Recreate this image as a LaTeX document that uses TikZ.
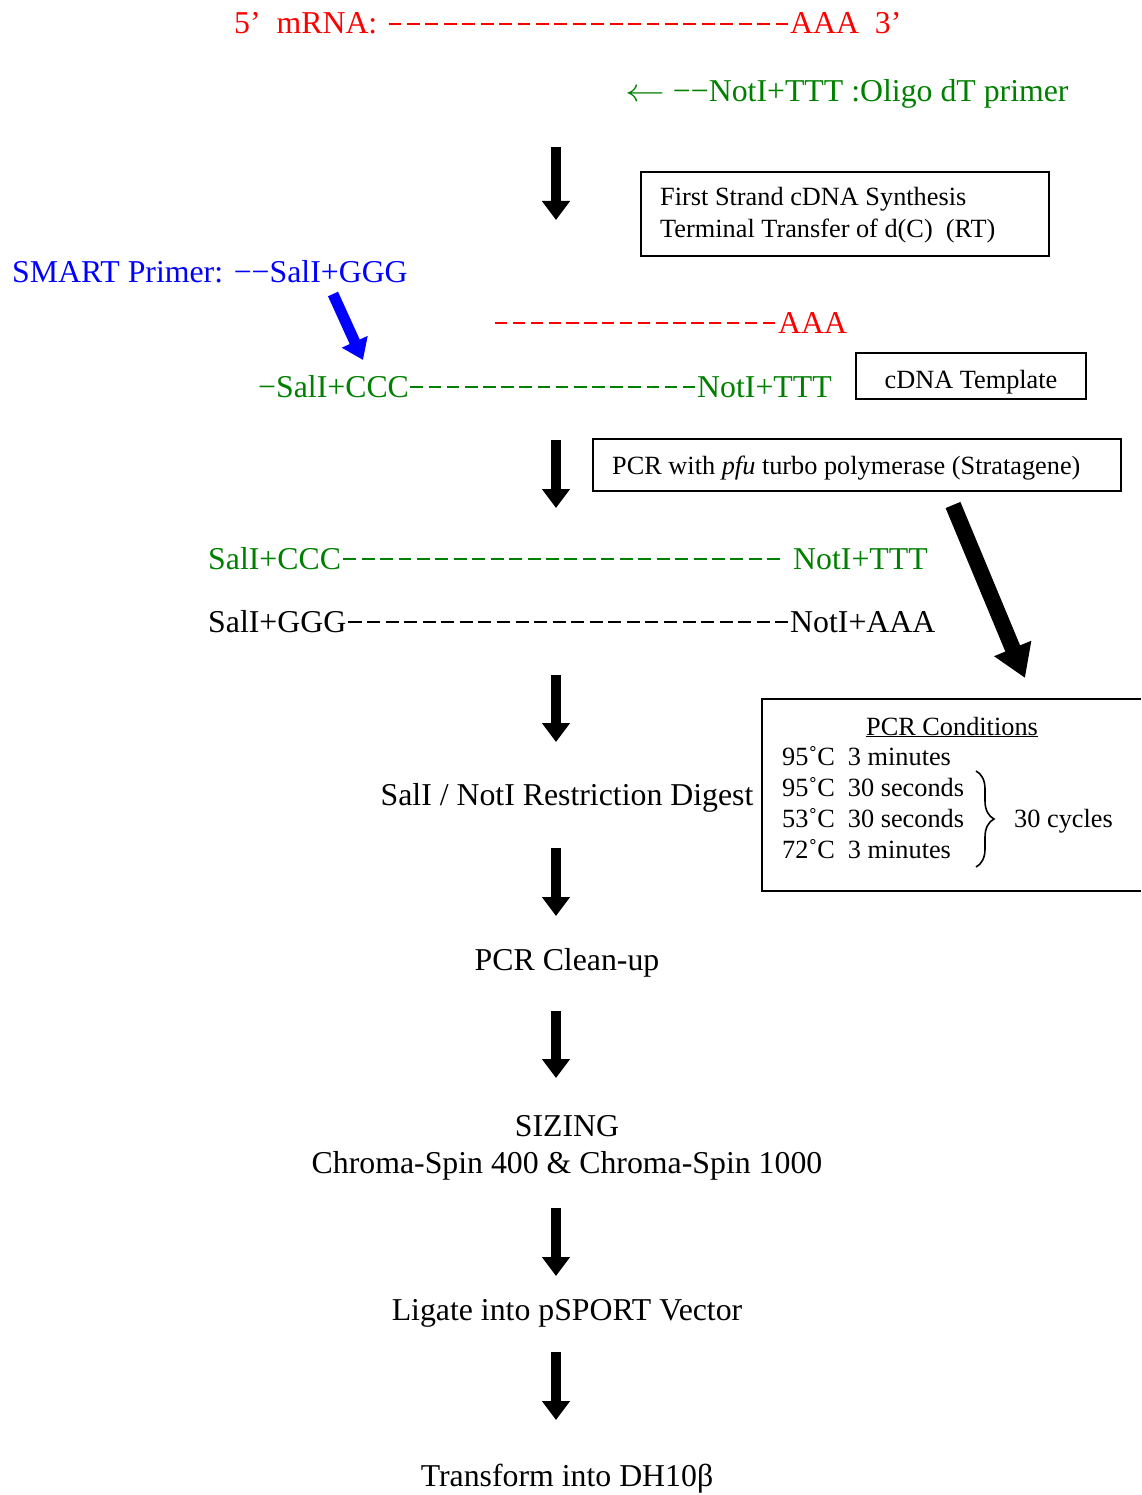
\documentclass[tikz,border=0pt]{standalone}
\usepackage{fontspec}
\setmainfont{Liberation Serif}
\usetikzlibrary{arrows.meta,decorations.pathreplacing}
\definecolor{dgreen}{RGB}{0,128,0}
\definecolor{pblue}{RGB}{0,0,255}
\definecolor{pred}{RGB}{255,0,0}
\begin{document}
\begin{tikzpicture}[x=1pt,y=-1pt,
  big/.style={font=\fontsize{31.8}{38}\selectfont, inner sep=0pt, anchor=base west},
  bigc/.style={font=\fontsize{31.8}{37}\selectfont, inner sep=0pt, anchor=base},
  small/.style={font=\fontsize{26.3}{32}\selectfont, inner sep=0pt, anchor=base west},
  strand/.style={line width=2.2pt},
  downarrow/.style={line width=10pt, -{Triangle[width=27pt,length=19pt]}},
  framebox/.style={draw, line width=1.6pt, inner sep=0pt},
]
\useasboundingbox (0,0) rectangle (1141,1495);

% mRNA
\node[big, text=pred] (m5) at (234,34) {5’\ \ mRNA:};
\node[big, text=pred] (m3) at (790,34) {AAA\ \ 3’};
\draw[pred, strand, dash pattern=on 12.93pt off 5.5pt]
  ([xshift=11pt,yshift=10pt]m5.base east) -- ([xshift=-2pt,yshift=10pt]m3.base west);

% oligo dT primer
\node[big, text=dgreen] (odt) at (625,102) {\scalebox{1.6}[1.3]{$\leftarrow$} −−NotI+TTT :Oligo dT primer};

% step 1
\coordinate (a1s) at (556,147);
\coordinate (a1e) at (556,220);
\draw[downarrow] (a1s) -- (a1e);
\node[framebox, anchor=north west, minimum width=408pt, minimum height=84pt] (fs) at (640,171) {};
\node[small] (fs1) at (660,206) {First Strand cDNA Synthesis};
\node[small] (fs2) at (660,238) {Terminal Transfer of d(C)\ \ (RT)};

% SMART primer
\node[big, text=pblue] (smart) at (12,283) {SMART Primer: −−SalI+GGG};
\coordinate (b1) at (333,294);
\coordinate (b2) at (363,360);
\draw[pblue, line width=11pt, -{Triangle[width=27pt,length=20pt]}] (b1) -- (b2);

% red strand
\node[big, text=pred] (raaa) at (778,333) {AAA};
\coordinate (rs) at (495,323);
\draw[pred, strand, dash pattern=on 12.34pt off 5.5pt] (rs) -- ([xshift=-3pt,yshift=10pt]raaa.base west);

% green strand
\node[big, text=dgreen] (gl) at (258,397) {−SalI+CCC};
\node[big, text=dgreen] (gr) at (697,397) {NotI+TTT};
\draw[dgreen, strand, dash pattern=on 12.66pt off 5.5pt]
  ([xshift=1.3pt,yshift=10pt]gl.base east) -- ([xshift=-2pt,yshift=10pt]gr.base west);

\node[framebox, minimum width=230pt, minimum height=46pt] (tmpl) at (971,376) {};
\node[small, anchor=base] (tmplt) at (971,388) {cDNA Template};

% step 2
\coordinate (a2s) at (556,440);
\coordinate (a2e) at (556,508);
\draw[downarrow] (a2s) -- (a2e);
\node[framebox, anchor=north west, minimum width=528pt, minimum height=52pt] (pcr) at (592,438) {};
\node[small] (pcrt) at (612,474) {PCR with \textit{pfu} turbo polymerase (Stratagene)};

% big diagonal arrow
\coordinate (d1) at (953,505);
\coordinate (d2) at (1025,678);
\draw[line width=16pt, -{Triangle[width=38pt,length=32pt]}] (d1) -- (d2);

% double strand
\node[big, text=dgreen] (sl) at (208,569) {SalI+CCC};
\node[big, text=dgreen] (sr) at (793,569) {NotI+TTT};
\draw[dgreen, strand, dash pattern=on 12.94pt off 5.5pt]
  ([xshift=2pt,yshift=10pt]sl.base east) -- ([xshift=-13pt,yshift=10pt]sr.base west);
\node[big] (al) at (208,632) {SalI+GGG};
\node[big] (ar) at (790,632) {NotI+AAA};
\draw[strand, dash pattern=on 13.06pt off 5.5pt]
  ([xshift=2pt,yshift=10pt]al.base east) -- ([xshift=-2pt,yshift=10pt]ar.base west);

% step 3
\coordinate (a3s) at (556,675);
\coordinate (a3e) at (556,742);
\draw[downarrow] (a3s) -- (a3e);
\node[bigc] (dig) at (567,805) {SalI / NotI Restriction Digest};

% PCR conditions box
\draw[line width=1.6pt] (1141,699) -- (762,699) -- (762,891) -- (1141,891);
\node[small, anchor=base] (pct) at (952,735) {\underline{PCR Conditions}};
\node[small] (c1) at (782,765) {95˚C\ \ 3 minutes};
\node[small] (c2) at (782,796) {95˚C\ \ 30 seconds};
\node[small] (c3) at (782,827) {53˚C\ \ 30 seconds};
\node[small] (c4) at (782,858) {72˚C\ \ 3 minutes};
\coordinate (br1) at (976,771);
\coordinate (br2) at (976,867);
\draw[line width=1.6pt, decorate, decoration={brace, amplitude=18pt, aspect=0.5}] (br1) -- (br2);
\node[small] (cyc) at (1014,827) {30 cycles};

% step 4
\coordinate (a4s) at (556,848);
\coordinate (a4e) at (556,916);
\draw[downarrow] (a4s) -- (a4e);
\node[bigc] (clean) at (567,970) {PCR Clean-up};

% step 5
\coordinate (a5s) at (556,1011);
\coordinate (a5e) at (556,1078);
\draw[downarrow] (a5s) -- (a5e);
\node[bigc] (siz) at (567,1136) {SIZING};
\node[bigc] (chr) at (567,1173) {Chroma-Spin 400 \& Chroma-Spin 1000};

% step 6
\coordinate (a6s) at (556,1208);
\coordinate (a6e) at (556,1276);
\draw[downarrow] (a6s) -- (a6e);
\node[bigc] (lig) at (567,1320) {Ligate into pSPORT Vector};

% step 7
\coordinate (a7s) at (556,1352);
\coordinate (a7e) at (556,1420);
\draw[downarrow] (a7s) -- (a7e);
\node[bigc] (trf) at (567,1486) {Transform into DH10β};
\end{tikzpicture}
\end{document}
